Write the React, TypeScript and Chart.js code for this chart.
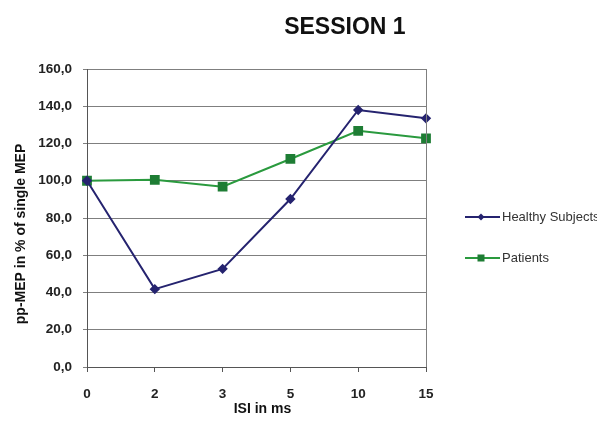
import React, { useEffect, useRef } from "react";
import { Chart, registerables } from "chart.js";

Chart.register(...registerables);

const chartTitle = "SESSION 1";
const xAxisTitle = "ISI in ms";
const yAxisTitle = "pp-MEP in % of single MEP";
const categories = ["0", "2", "3", "5", "10", "15"];
const seriesNames = ["Healthy Subjects", "Patients"];
const healthy = [100, 41.8, 52.7, 90.2, 138.0, 133.5];
const patients = [100, 100.5, 96.8, 111.7, 126.8, 122.8];

const FONT = "'Liberation Sans', Arial, sans-serif";

const decorPlugin = {
  id: "decor",
  afterDraw(chart: any) {
    const ctx = chart.ctx;
    const ca = chart.chartArea;
    ctx.save();
    // right border of plot
    ctx.strokeStyle = "#7f7f7f";
    ctx.lineWidth = 1;
    ctx.beginPath();
    ctx.moveTo(Math.round(ca.right) + 0.5, ca.top);
    ctx.lineTo(Math.round(ca.right) + 0.5, ca.bottom);
    ctx.stroke();

    // chart title
    ctx.fillStyle = "#111";
    ctx.textAlign = "center";
    ctx.textBaseline = "middle";
    ctx.font = `bold 23px ${FONT}`;
    ctx.fillText(chartTitle, chart.width * 0.572, 20);

    // x axis title
    ctx.font = `bold 14px ${FONT}`;
    ctx.fillText(xAxisTitle, (ca.left + ca.right) / 2 + 6, chart.height - 11);

    // y axis title
    ctx.save();
    ctx.translate(13, (ca.top + ca.bottom) / 2 + 16);
    ctx.rotate(-Math.PI / 2);
    ctx.fillText(yAxisTitle, 0, 0);
    ctx.restore();

    // legend
    const lx = ca.right + 39;
    const rows = [209, 250];
    chart.data.datasets.forEach((ds: any, i: number) => {
      const y = rows[i];
      ctx.strokeStyle = ds.borderColor;
      ctx.lineWidth = 2;
      ctx.beginPath();
      ctx.moveTo(lx, y);
      ctx.lineTo(lx + 35, y);
      ctx.stroke();
      ctx.fillStyle = ds.pointBackgroundColor;
      const mx = lx + 16;
      if (ds.pointStyle === "rectRot") {
        ctx.beginPath();
        ctx.moveTo(mx, y - 3.5);
        ctx.lineTo(mx + 3.5, y);
        ctx.lineTo(mx, y + 3.5);
        ctx.lineTo(mx - 3.5, y);
        ctx.closePath();
        ctx.fill();
      } else {
        ctx.fillRect(mx - 3.5, y - 3.5, 7, 7);
      }
      ctx.fillStyle = "#333";
      ctx.textAlign = "left";
      ctx.textBaseline = "middle";
      ctx.font = `13px ${FONT}`;
      ctx.fillText(ds.label, lx + 37, y);
    });
    ctx.restore();
  },
};

export default function App() {
  const ref = useRef<HTMLCanvasElement>(null);
  useEffect(() => {
    if (!ref.current) return;
    const chart = new Chart(ref.current, {
      type: "line",
      data: {
        labels: categories,
        datasets: [
          {
            label: seriesNames[0],
            data: healthy,
            borderColor: "#25236f",
            backgroundColor: "#25236f",
            pointBackgroundColor: "#25236f",
            pointBorderColor: "#25236f",
            pointStyle: "rectRot",
            pointRadius: 3.8,
            borderWidth: 2,
            tension: 0,
          },
          {
            label: seriesNames[1],
            data: patients,
            borderColor: "#2a9a3e",
            backgroundColor: "#1e7d34",
            pointBackgroundColor: "#1e7d34",
            pointBorderColor: "#1e7d34",
            pointStyle: "rect",
            pointRadius: 5.5,
            borderWidth: 2,
            tension: 0,
          },
        ],
      },
      options: {
        animation: false,
        responsive: false,
        layout: { padding: { top: 61, right: 171, left: 0, bottom: 0 } },
        plugins: {
          legend: { display: false },
          title: { display: false },
          tooltip: { enabled: false },
        },
        scales: {
          x: {
            offset: false,
            grid: {
              drawOnChartArea: false,
              drawTicks: true,
              tickLength: 5,
              color: "#555",
            },
            border: { color: "#555", width: 1 },
            ticks: {
              padding: 14,
              color: "#222",
              font: { family: FONT, size: 13.5, weight: "bold" },
              maxRotation: 0,
            },
            afterFit: (s: any) => {
              s.height = 53;
            },
          },
          y: {
            min: 0,
            max: 160,
            grid: {
              color: "#7f7f7f",
              drawTicks: true,
              tickLength: 4,
            },
            border: { color: "#555", width: 1 },
            ticks: {
              stepSize: 20,
              padding: 11,
              color: "#222",
              font: { family: FONT, size: 13.5, weight: "bold" },
              callback: (v: any) => Number(v).toFixed(1).replace(".", ","),
            },
            afterFit: (s: any) => {
              s.width = 79;
            },
          },
        },
      },
      plugins: [decorPlugin],
    });
    return () => chart.destroy();
  }, []);
  return (
    <div style={{ width: 589, height: 412 }}>
      <canvas ref={ref} width={589} height={412} style={{ display: "block" }} />
    </div>
  );
}
